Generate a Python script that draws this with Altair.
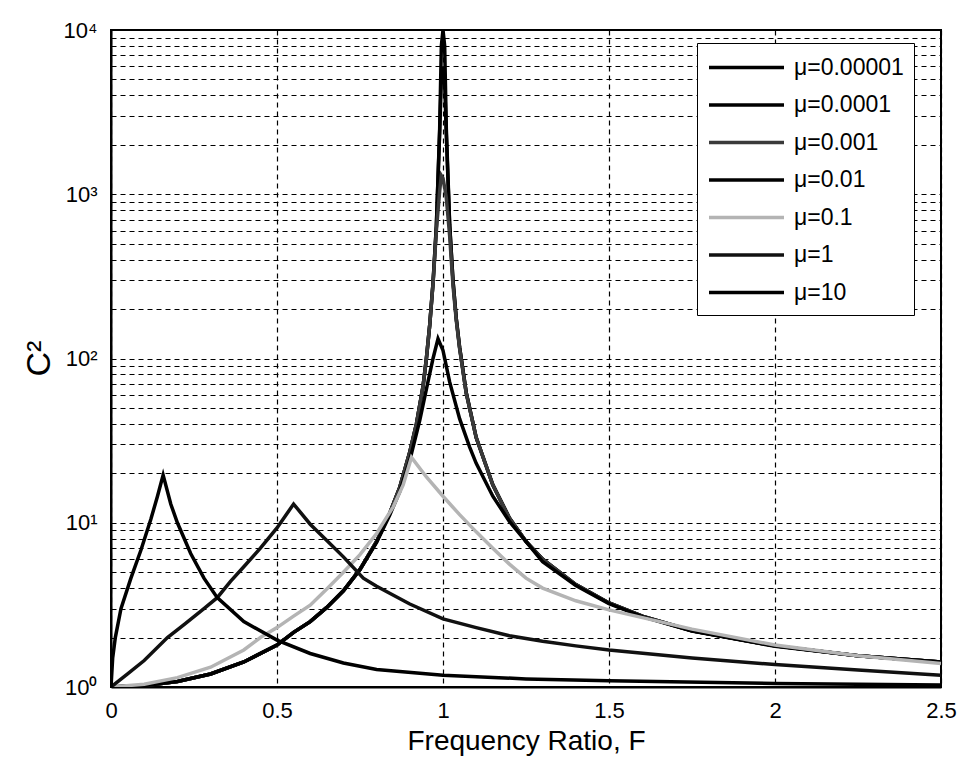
import altair as alt
import pandas as pd

mu_labels = ["μ=0.00001", "μ=0.0001", "μ=0.001", "μ=0.01", "μ=0.1", "μ=1", "μ=10"]
line_colors = ["#000000", "#000000", "#3a3a3a", "#000000", "#b4b4b4", "#111111", "#000000"]

F_mu1e5 = [0, 0.1, 0.2, 0.3, 0.4, 0.5, 0.55, 0.6, 0.65, 0.7, 0.75, 0.8, 0.84, 0.87, 0.9, 0.92, 0.94, 0.95, 0.96, 0.97, 0.98, 0.99, 0.995, 1.0, 1.005, 1.01, 1.02, 1.03, 1.04, 1.05, 1.07, 1.1, 1.15, 1.2, 1.25, 1.3, 1.4, 1.5, 1.6, 1.75, 2.0, 2.25, 2.5]
C2_mu1e5 = [1.0, 1.02, 1.08, 1.2, 1.42, 1.8, 2.15, 2.5, 3.05, 3.85, 5.2, 7.7, 11.5, 16.5, 27, 40, 68, 100, 160, 290, 640, 2500, 8000, 10000, 8000, 2500, 660, 300, 175, 117, 62, 33, 17, 10.7, 7.7, 6.0, 4.2, 3.25, 2.7, 2.2, 1.78, 1.55, 1.42]

F_mu1e4 = [0, 0.1, 0.2, 0.3, 0.4, 0.5, 0.55, 0.6, 0.65, 0.7, 0.75, 0.8, 0.84, 0.87, 0.9, 0.92, 0.94, 0.95, 0.96, 0.97, 0.98, 0.99, 0.995, 1.0, 1.005, 1.01, 1.02, 1.03, 1.04, 1.05, 1.07, 1.1, 1.15, 1.2, 1.25, 1.3, 1.4, 1.5, 1.6, 1.75, 2.0, 2.25, 2.5]
C2_mu1e4 = [1.0, 1.02, 1.08, 1.2, 1.42, 1.8, 2.15, 2.5, 3.05, 3.85, 5.2, 7.7, 11.5, 16.5, 27, 40, 68, 100, 160, 290, 640, 2400, 5000, 6000, 4800, 2300, 650, 300, 175, 117, 62, 33, 17, 10.7, 7.7, 6.0, 4.2, 3.25, 2.7, 2.2, 1.78, 1.55, 1.42]

F_mu1e3 = [0, 0.1, 0.2, 0.3, 0.4, 0.5, 0.55, 0.6, 0.65, 0.7, 0.75, 0.8, 0.84, 0.87, 0.9, 0.92, 0.94, 0.95, 0.96, 0.97, 0.98, 0.99, 0.995, 1.0, 1.005, 1.01, 1.02, 1.03, 1.04, 1.05, 1.07, 1.1, 1.15, 1.2, 1.25, 1.3, 1.4, 1.5, 1.6, 1.75, 2.0, 2.25, 2.5]
C2_mu1e3 = [1.0, 1.02, 1.08, 1.2, 1.42, 1.8, 2.15, 2.5, 3.05, 3.85, 5.2, 7.7, 11.5, 16.5, 27, 40, 68, 100, 160, 285, 600, 1050, 1300, 1250, 1100, 950, 560, 280, 170, 115, 61, 33, 17, 10.7, 7.7, 6.0, 4.2, 3.25, 2.7, 2.2, 1.78, 1.55, 1.42]

F_mu1e2 = [0, 0.1, 0.2, 0.3, 0.4, 0.5, 0.55, 0.6, 0.65, 0.7, 0.75, 0.8, 0.84, 0.87, 0.9, 0.93, 0.95, 0.97, 0.985, 1.0, 1.02, 1.05, 1.08, 1.1, 1.15, 1.2, 1.3, 1.4, 1.5, 1.6, 1.75, 2.0, 2.25, 2.5]
C2_mu1e2 = [1.0, 1.02, 1.08, 1.2, 1.42, 1.8, 2.15, 2.5, 3.05, 3.85, 5.2, 7.6, 11.2, 15.5, 24, 42, 65, 100, 132, 112, 72, 43, 29, 23, 14.5, 10.2, 5.8, 4.15, 3.22, 2.68, 2.19, 1.77, 1.55, 1.42]

F_mu1e1 = [0, 0.1, 0.2, 0.3, 0.4, 0.45, 0.5, 0.55, 0.6, 0.65, 0.7, 0.75, 0.8, 0.85, 0.88, 0.905, 0.95, 1.0, 1.05, 1.1, 1.15, 1.2, 1.25, 1.3, 1.4, 1.5, 1.75, 2.0, 2.25, 2.5]
C2_mu1e1 = [1.0, 1.04, 1.14, 1.32, 1.68, 2.0, 2.3, 2.7, 3.15, 3.95, 5.0, 6.4, 8.6, 12.5, 17, 25, 19, 14.5, 11.2, 8.8, 7.0, 5.6, 4.6, 4.0, 3.35, 2.95, 2.25, 1.8, 1.55, 1.39]

F_mu1 = [0, 0.05, 0.1, 0.17, 0.22, 0.28, 0.32, 0.36, 0.4, 0.45, 0.5, 0.55, 0.6, 0.65, 0.7, 0.76, 0.8, 0.9, 1.0, 1.1, 1.2, 1.3, 1.4, 1.5, 1.75, 2.0, 2.25, 2.5]
C2_mu1 = [1.0, 1.2, 1.45, 2.0, 2.4, 3.0, 3.5, 4.4, 5.4, 7.0, 9.3, 13, 9.8, 7.8, 6.2, 4.6, 4.1, 3.2, 2.6, 2.3, 2.05, 1.9, 1.78, 1.68, 1.5, 1.37, 1.27, 1.18]

F_mu10 = [0, 0.005, 0.013, 0.03, 0.06, 0.09, 0.12, 0.14, 0.157, 0.18, 0.2, 0.24, 0.28, 0.32, 0.4, 0.5, 0.6, 0.7, 0.8, 1.0, 1.25, 1.5, 2.0, 2.5]
C2_mu10 = [1.0, 1.5, 2.0, 3.0, 4.6, 6.8, 10.5, 14.5, 19.5, 13, 10, 6.5, 4.6, 3.5, 2.5, 1.93, 1.6, 1.4, 1.28, 1.18, 1.12, 1.09, 1.05, 1.03]

x_ticks = [0, 0.5, 1, 1.5, 2, 2.5]
y_grid = [m * 10 ** k for k in range(4) for m in range(1, 10)] + [10000]

series = [
    (mu_labels[0], F_mu1e5, C2_mu1e5),
    (mu_labels[1], F_mu1e4, C2_mu1e4),
    (mu_labels[2], F_mu1e3, C2_mu1e3),
    (mu_labels[3], F_mu1e2, C2_mu1e2),
    (mu_labels[4], F_mu1e1, C2_mu1e1),
    (mu_labels[5], F_mu1, C2_mu1),
    (mu_labels[6], F_mu10, C2_mu10),
]
rows = []
for order, (name, fs, cs) in enumerate(series):
    for i, (f, c) in enumerate(zip(fs, cs)):
        rows.append({"mu": name, "F": f, "C2": c, "order": order, "i": i})
df = pd.DataFrame(rows)

label_expr = ("datum.value == 1 ? '10⁰' : datum.value == 10 ? '10¹' : "
              "datum.value == 100 ? '10²' : datum.value == 1000 ? '10³' : "
              "datum.value == 10000 ? '10⁴' : ''")

chart = alt.Chart(df).mark_line(clip=True, strokeWidth=3.5).encode(
    x=alt.X("F:Q", scale=alt.Scale(domain=[0, 2.5], nice=False, zero=False),
            axis=alt.Axis(values=x_ticks, format="~g", labelPadding=13,
                          title="Frequency Ratio, F", titleFontSize=28,
                          titlePadding=6, labelFlush=False)),
    y=alt.Y("C2:Q", scale=alt.Scale(type="log", domain=[1, 10000], nice=False),
            axis=alt.Axis(values=y_grid, labelExpr=label_expr, labelPadding=14,
                          labelOverlap=False, labelFlush=False,
                          title="C²", titleFontSize=34, titleAngle=270,
                          titleX=-62, titleY=328, titleBaseline="alphabetic",
                          titleAlign="center")),
    color=alt.Color("mu:N", scale=alt.Scale(domain=mu_labels, range=line_colors),
                    legend=alt.Legend(title=None, orient="none", legendX=586, legendY=13,
                                      padding=10, rowPadding=10.5,
                                      symbolType="M-1,0H5", symbolSize=625,
                                      symbolStrokeWidth=4, labelOffset=58,
                                      labelFontSize=23, labelFont="Liberation Sans",
                                      labelColor="black", fillColor="white",
                                      strokeColor="black")),
    strokeWidth=alt.StrokeWidth("mu:N", scale=alt.Scale(domain=mu_labels,
                                range=[3.5, 3.5, 3, 4, 2.5, 3, 3.5]), legend=None),
    detail="mu:N",
    order="i:Q",
).properties(
    width=830, height=657,
    background="white",
    autosize=alt.AutoSizeParams(type="none"),
    padding={"left": 111, "top": 30, "right": 20, "bottom": 82},
).configure_view(
    stroke="black", strokeWidth=2
).configure_axis(
    grid=True, gridColor="black", gridDash=[5, 4], gridWidth=1.2, gridOpacity=1,
    domainColor="black", domainWidth=2, ticks=False,
    labelFont="Liberation Sans", labelFontSize=22, labelColor="black",
    titleFont="Liberation Sans", titleFontWeight="normal", titleColor="black",
)

chart.save("out.html", embed_options={"renderer": "svg", "actions": False})
